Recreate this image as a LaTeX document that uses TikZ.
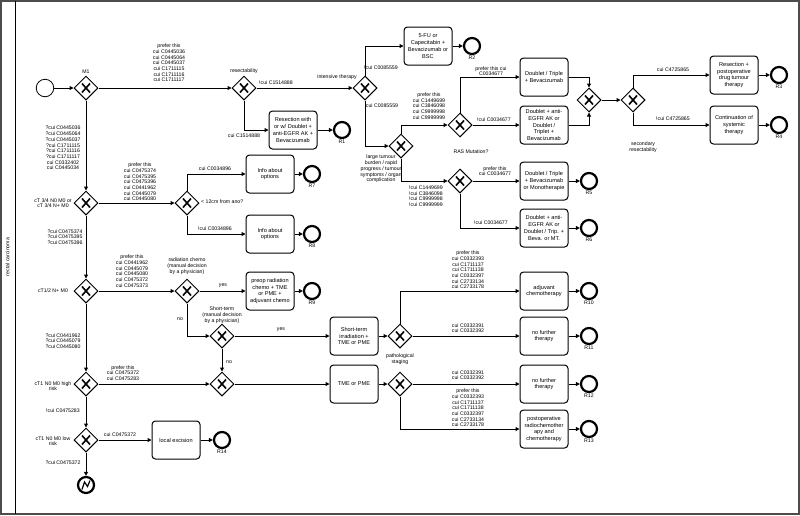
\documentclass[tikz,border=0pt]{standalone}
\usepackage{fontspec}
\setmainfont{Liberation Sans}
\usetikzlibrary{shapes.geometric, arrows.meta}

\begin{document}
\begin{tikzpicture}[
  x=1pt, y=-1pt,
  gw/.style={diamond, draw, line width=1pt, minimum width=24pt, minimum height=24pt,
             inner sep=0pt, fill=white,
             path picture={\draw[line width=1.6pt]
               ([shift={(-4pt,-4.5pt)}]path picture bounding box.center) --
               ([shift={(4pt,4.5pt)}]path picture bounding box.center)
               ([shift={(-4pt,4.5pt)}]path picture bounding box.center) --
               ([shift={(4pt,-4.5pt)}]path picture bounding box.center);}},
  task/.style={rectangle, draw, line width=1pt, rounded corners=3.5pt,
               minimum width=48pt, minimum height=38pt, align=center, inner sep=1pt,
               font=\fontsize{5.6}{6.8}\selectfont},
  startev/.style={circle, draw, line width=0.8pt, minimum size=17.5pt, inner sep=0pt},
  endev/.style={circle, draw, line width=2.2pt, minimum size=16pt, inner sep=0pt,
                label distance=1pt},
  errev/.style={endev,
                path picture={\draw[line width=1.2pt, line join=miter]
                  ([shift={(-4pt,-4.5pt)}]path picture bounding box.center) --
                  ([shift={(-1.5pt,3pt)}]path picture bounding box.center) --
                  ([shift={(1.5pt,-1.5pt)}]path picture bounding box.center) --
                  ([shift={(4pt,4.5pt)}]path picture bounding box.center);}},
  arr/.style={-{Triangle[length=4pt,width=4pt]}, line width=1pt},
  lbl/.style={align=center, inner sep=0pt, font=\fontsize{5.2}{5.7}\selectfont},
  rlbl/.style={font=\fontsize{5.2}{5.7}\selectfont, inner sep=0.5pt},
]
\useasboundingbox (0,0) rectangle (800,515);

% pool and lane
\draw[line width=2pt, gray!60!black] (1,1) rectangle (799,514);
\draw[line width=0.8pt] (15,1) -- (15,514);
\node[lbl, rotate=90] (lane) at (7.5,257) {rectal carcinoma};

% top branch: metastases
\node[startev] (start) at (45,88) {};
\node[gw, label={[lbl, label distance=2pt]above:M1}] (m1) at (86,88) {};
\node[gw] (res) at (244,88) {};
\node[gw] (it) at (365,88) {};
\node[task] (fu) at (428,46) {5-FU or\\Capecitabin +\\Bevacizumab or\\BSC};
\node[endev, label={[rlbl]below:R2}] (r2) at (472,46) {};
\node[task] (resbox) at (293,130) {Resection with\\or w/ Doublet +\\anti-EGFR AK +\\Bevacizumab};
\node[endev, label={[rlbl]below:R1}] (r1) at (342,130) {};
\node[gw] (lt) at (401,146) {};
\node[gw] (ras1) at (460,125) {};
\node[gw] (ras2) at (460,181) {};
\node[task] (dtb) at (544,77) {Doublet / Triple\\+ Bevacizumab};
\node[task] (deb) at (544,125) {Doublet + anti-\\EGFR AK or\\Doublet /\\Triplet +\\Bevacizumab};
\node[gw] (m2) at (589,100) {};
\node[gw] (sr) at (633,100) {};
\node[task] (rpb) at (734,75) {Resection +\\postoperative\\drug tumour\\therapy};
\node[task] (csb) at (734,125) {Continuation of\\systemic\\therapy};
\node[endev, label={[rlbl]below:R3}] (r3) at (779,75) {};
\node[endev, label={[rlbl]below:R4}] (r4) at (779,125) {};
\node[task] (dtmb) at (544,181) {Doublet / Triple\\+ Bevacizumab\\or Monotherapie};
\node[task] (debm) at (544,228) {Doublet + anti-\\EGFR AK or\\Doublet / Trip. +\\Beva. or MT.};
\node[endev, label={[rlbl]below:R5}] (r5) at (589,181) {};
\node[endev, label={[rlbl]below:R6}] (r6) at (589,228) {};

% left column: staging
\node[gw] (ct34) at (86,203) {};
\node[gw] (cm12) at (187,203) {};
\node[task] (info1) at (270,174) {Info about\\options};
\node[task] (info2) at (270,234) {Info about\\options};
\node[endev, label={[rlbl]below:R7}] (r7) at (312,174) {};
\node[endev, label={[rlbl]below:R8}] (r8) at (312,234) {};
\node[gw] (ct12) at (86,291) {};
\node[gw] (rc) at (187,291) {};
\node[task] (preop) at (270,291) {preop radiation\\chemo + TME\\or PME +\\adjuvant chemo};
\node[endev, label={[rlbl]below:R9}] (r9) at (312,291) {};
\node[gw] (st) at (222,336) {};
\node[task] (stirr) at (354,336) {Short-term\\irradiation +\\TME or PME};
\node[gw] (mg) at (222,384) {};
\node[task] (tme) at (354,384) {TME or PME};
\node[gw] (ps1) at (400,336) {};
\node[gw] (ps2) at (400,384) {};
\node[task] (adj) at (544,291) {adjuvant\\chemotherapy};
\node[task] (nft1) at (544,336) {no further\\therapy};
\node[task] (nft2) at (544,384) {no further\\therapy};
\node[task] (post) at (544,429) {postoperative\\radiochemother\\apy and\\chemotherapy};
\node[endev, label={[rlbl]below:R10}] (r10) at (589,291) {};
\node[endev, label={[rlbl]below:R11}] (r11) at (589,336) {};
\node[endev, label={[rlbl]below:R12}] (r12) at (589,384) {};
\node[endev, label={[rlbl]below:R13}] (r13) at (589,429) {};
\node[gw] (ct1h) at (86,384) {};
\node[gw] (ct1l) at (86,440) {};
\node[task] (locex) at (176,440) {local excision};
\node[endev, label={[rlbl]below:R14}] (r14) at (222,440) {};
\node[errev] (err) at (86,485) {};

% gateway labels
\node[lbl] (lres) at (244,71) {resectability};
\node[lbl] (lit) at (337,77) {intensive therapy};
\node[lbl] (llt) at (381,169) {large tumour\\burden / rapid\\progress / tumour\\symptoms / organ\\complication};
\node[lbl] (lras) at (471,152) {RAS Mutation?};
\node[lbl] (lsr) at (643,147) {secondary\\resectability};
\node[lbl] (lct34) at (53,203) {cT 3/4 N0 M0 or\\cT 3/4 N+ M0};
\node[lbl, anchor=west] (lcm12) at (201,202) {< 12cm from ano?};
\node[lbl] (lct12) at (53,291) {cT1/2 N+ M0};
\node[lbl] (lrc) at (187,266) {radiation chemo\\(manual decision\\by a physician)};
\node[lbl] (lst) at (222,315) {Short-term\\(manual decision\\by a physician)};
\node[lbl] (lps) at (400,359) {pathological\\staging};
\node[lbl] (lct1h) at (53,386) {cT1 N0 M0 high\\risk};
\node[lbl] (lct1l) at (53,441) {cT1 N0 M0 low\\risk};

% flows, top
\draw[arr] (start) -- (m1);
\draw[arr] (m1) -- (res);
\draw[arr] (res) -- (it);
\draw[arr] (res) |- (resbox);
\draw[arr] (resbox) -- (r1);
\draw[arr] (it) |- (fu);
\draw[arr] (fu) -- (r2);
\draw[arr] (it) |- (lt);
\draw[arr] (lt) |- (ras1);
\draw[arr] (lt) |- (ras2);
\draw[arr] (ras1) |- (dtb);
\draw[arr] (ras1) -- (deb);
\draw[arr] (dtb) -| (m2);
\draw[arr] (deb) -| (m2);
\draw[arr] (m2) -- (sr);
\draw[arr] (sr) |- (rpb);
\draw[arr] (sr) |- (csb);
\draw[arr] (rpb) -- (r3);
\draw[arr] (csb) -- (r4);
\draw[arr] (ras2) -- (dtmb);
\draw[arr] (ras2) |- (debm);
\draw[arr] (dtmb) -- (r5);
\draw[arr] (debm) -- (r6);

% flows, staging
\draw[arr] (m1) -- (ct34);
\draw[arr] (ct34) -- (cm12);
\draw[arr] (cm12) |- (info1);
\draw[arr] (cm12) |- (info2);
\draw[arr] (info1) -- (r7);
\draw[arr] (info2) -- (r8);
\draw[arr] (ct34) -- (ct12);
\draw[arr] (ct12) -- (rc);
\draw[arr] (rc) -- (preop);
\draw[arr] (preop) -- (r9);
\draw[arr] (rc) |- (st);
\draw[arr] (st) -- (stirr);
\draw[arr] (st) -- (mg);
\draw[arr] (ct12) -- (ct1h);
\draw[arr] (ct1h) -- (mg);
\draw[arr] (mg) -- (tme);
\draw[arr] (stirr) -- (ps1);
\draw[arr] (tme) -- (ps2);
\draw[arr] (ps1) |- (adj);
\draw[arr] (ps1) -- (nft1);
\draw[arr] (ps2) -- (nft2);
\draw[arr] (ps2) |- (post);
\draw[arr] (adj) -- (r10);
\draw[arr] (nft1) -- (r11);
\draw[arr] (nft2) -- (r12);
\draw[arr] (post) -- (r13);
\draw[arr] (ct1h) -- (ct1l);
\draw[arr] (ct1l) -- (locex);
\draw[arr] (locex) -- (r14);
\draw[arr] (ct1l) -- (err);

% flow conditions
\node[lbl] (cm1res) at (169,63) {prefer this\\cui C0445036\\cui C0445064\\cui C0445037\\cui C1711115\\cui C1711116\\cui C1711117};
\node[lbl] (cresit) at (276,83) {!cui C1514888};
\node[lbl] (cresbox) at (244,136) {cui C1514888};
\node[lbl] (citfu) at (381,68) {!cui C0085559};
\node[lbl] (citlt) at (382,106) {cui C0085559};
\node[lbl] (cltras1) at (429,106) {prefer this\\cui C1449699\\cui C3846098\\cui C9999998\\cui C9999999};
\node[lbl] (cltras2) at (426,196) {!cui C1449699\\!cui C3846098\\!cui C9999998\\!cui C9999999};
\node[lbl] (cdtb) at (491,71) {prefer this cui\\C0034677};
\node[lbl] (cdeb) at (494,120) {!cui C0034677};
\node[lbl] (crpb) at (673,70) {cui C4725865};
\node[lbl] (ccsb) at (673,119) {!cui C4725865};
\node[lbl] (cdtmb) at (495,171) {prefer this\\cui C0034677};
\node[lbl] (cdebm) at (491,223) {!cui C0034677};
\node[lbl] (cm1ct34) at (63,148) {?cui C0445036\\?cui C0445064\\?cui C0445037\\?cui C1711115\\?cui C1711116\\?cui C1711117\\cui C0332402\\cui C0445034};
\node[lbl] (cct34cm) at (140,182) {prefer this\\cui C0475374\\cui C0475395\\cui C0475396\\cui C0441962\\cui C0445079\\cui C0445080};
\node[lbl] (cinfo1) at (215,169) {cui C0034896};
\node[lbl] (cinfo2) at (215,229) {!cui C0034896};
\node[lbl] (cct34ct12) at (65,237) {?cui C0475374\\?cui C0475395\\?cui C0475396};
\node[lbl] (cct12rc) at (132,271) {prefer this\\cui C0441962\\cui C0445079\\cui C0445080\\cui C0475372\\cui C0475373};
\node[lbl] (crcyes) at (223,286) {yes};
\node[lbl] (crcno) at (180,319) {no};
\node[lbl] (cstyes) at (281,330) {yes};
\node[lbl] (cstno) at (229,362) {no};
\node[lbl] (cct12ct1h) at (63,341) {?cui C0441962\\?cui C0445079\\?cui C0445080};
\node[lbl] (cct1hmg) at (123,373) {prefer this\\cui C0475372\\cui C0475283};
\node[lbl] (cct1hct1l) at (63,411) {!cui C0475283};
\node[lbl] (cct1lloc) at (120,435) {cui C0475372};
\node[lbl] (cct1lerr) at (63,463) {?cui C0475372};
\node[lbl] (cadj) at (468,270) {prefer this\\cui C0332393\\cui C1711137\\cui C1711138\\cui C0332397\\cui C2733134\\cui C2733178};
\node[lbl] (cnft1) at (468,328) {cui C0332391\\cui C0332392};
\node[lbl] (cnft2) at (468,375) {cui C0332391\\cui C0332392};
\node[lbl] (cpost) at (468,408) {prefer this\\cui C0332393\\cui C1711137\\cui C1711138\\cui C0332397\\cui C2733134\\cui C2733178};

\end{tikzpicture}
\end{document}
